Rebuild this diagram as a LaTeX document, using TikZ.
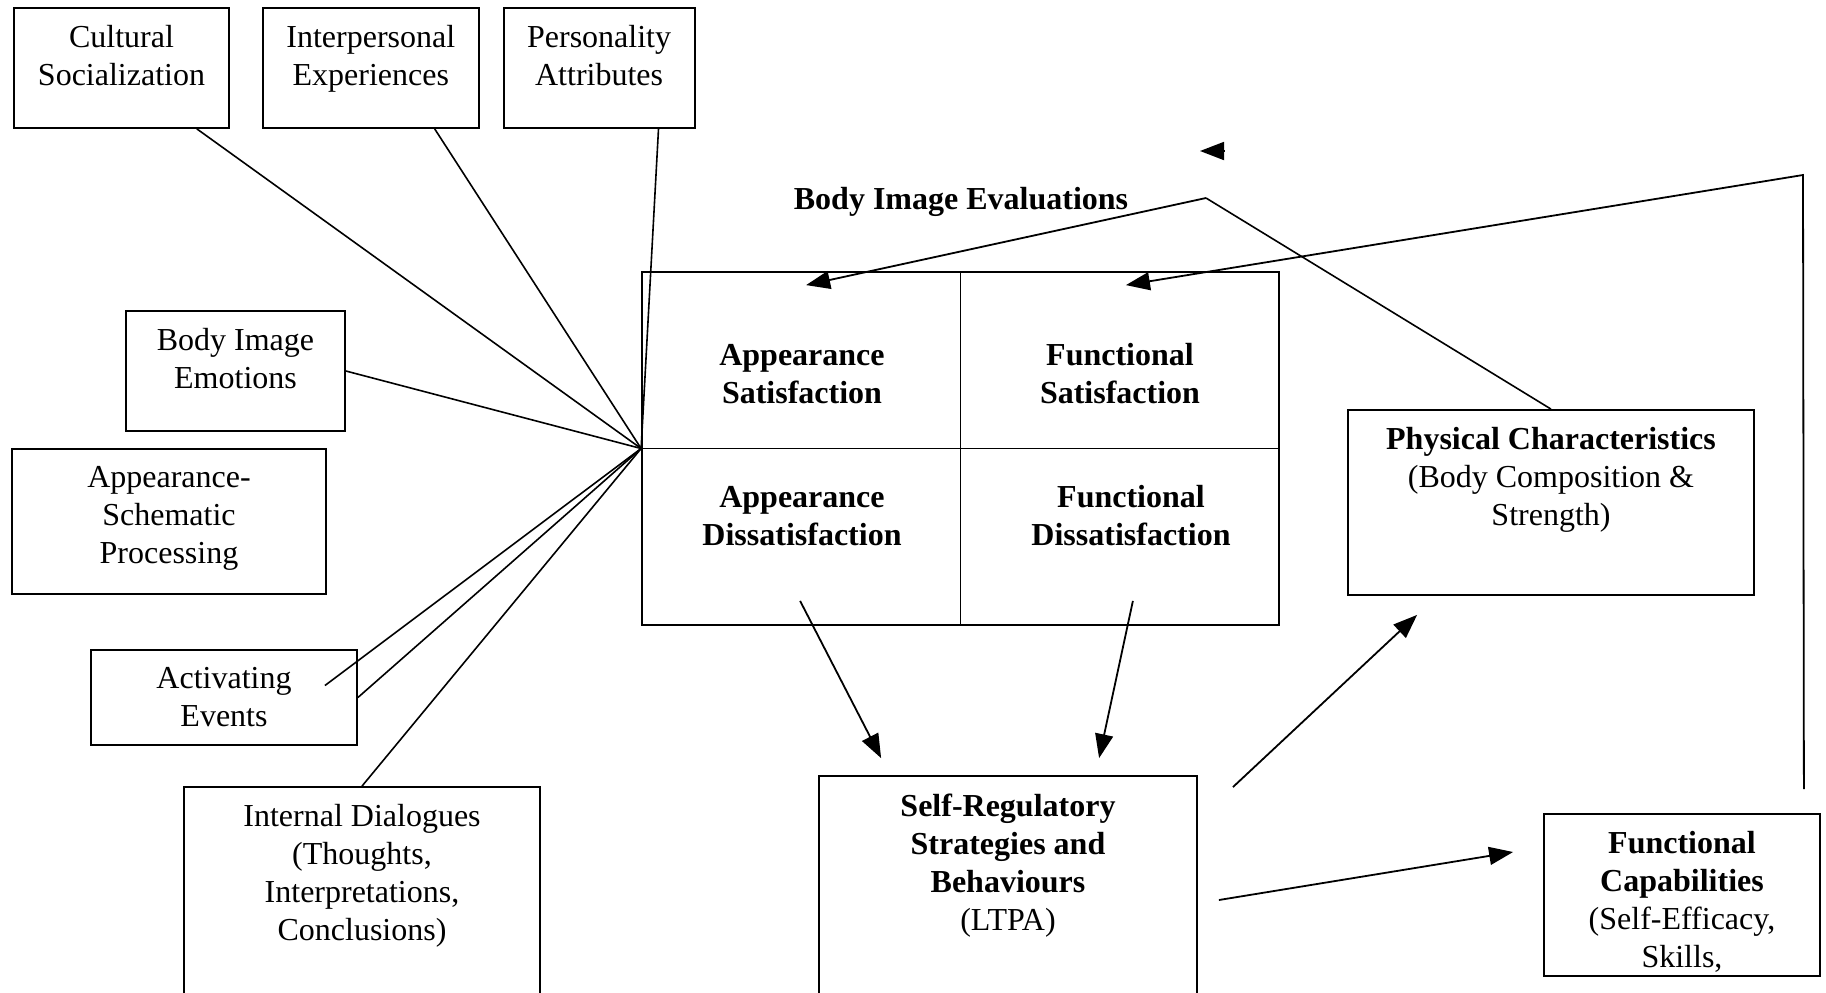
\documentclass[tikz,border=0pt]{standalone}
\usepackage{fontspec}
\setmainfont{Liberation Serif}
\usetikzlibrary{arrows.meta,positioning,calc}
\newcommand{\boxfont}{\fontsize{16}{19}\selectfont}
\tikzset{
  box/.style={draw,line width=0.9pt,inner sep=0pt},
  txt/.style={anchor=north,yshift=-9pt,inner sep=0pt,align=center,font=\boxfont},
  cell/.style={inner sep=0pt,align=center,font=\boxfont\bfseries},
  spoke/.style={line width=0.8pt},
  flow/.style={-{Triangle[length=12pt,width=9pt]},line width=0.9pt},
}

\begin{document}
\begin{tikzpicture}[x=0.5pt,y=-0.5pt]
  \useasboundingbox (0,0) rectangle (1826,992);
  % --- influences on the evaluations ---
  \node[box,minimum width=107.5pt,minimum height=60pt,
    label={[txt]north:{Cultural\\Socialization}}] (cult) at (121.5,68) {};
  \node[box,minimum width=108pt,minimum height=60pt,right=16pt of cult,
    label={[txt]north:{Interpersonal\\Experiences}}] (inter) {};
  \node[box,minimum width=95.5pt,minimum height=60pt,right=11.5pt of inter,
    label={[txt]north:{Personality\\Attributes}}] (pers) {};
  \node[box,minimum width=109.5pt,minimum height=60pt,
    label={[txt]north:{Body Image\\Emotions}}] (emot) at (235.5,371) {};
  \node[box,minimum width=157pt,minimum height=72.5pt,
    label={[txt]north:{Appearance-\\Schematic\\Processing}}] (schem) at (169,521.5) {};
  \node[box,minimum width=133pt,minimum height=47.5pt,
    label={[txt]north:{Activating\\Events}}] (activ) at (224,697.5) {};
  \node[box,minimum width=178pt,minimum height=105.5pt,
    label={[txt]north:{Internal Dialogues\\(Thoughts,\\Interpretations,\\Conclusions)}}] (dial) at (362,892.5) {};

  % --- body image evaluations grid ---
  \node[box,minimum width=318.5pt,minimum height=176.5pt] (evalgrid) at (960.5,448.5) {};
  \draw[line width=0.9pt] (evalgrid.north) -- (evalgrid.south);
  \draw[line width=0.9pt] (evalgrid.west) -- (evalgrid.east);
  \node[cell] (apsat) at (802,374) {Appearance\\Satisfaction};
  \node[cell] (fnsat) at (1120,374) {Functional\\Satisfaction};
  \node[cell] (apdis) at (802,516) {Appearance\\Dissatisfaction};
  \node[cell] (fndis) at (1131,516) {Functional\\Dissatisfaction};
  \node[cell] (evallab) at (961,202) {Body Image Evaluations};

  % --- outcomes ---
  \node[box,minimum width=203pt,minimum height=92.5pt,
    label={[txt]north:{\textbf{Physical Characteristics}\\(Body Composition \&\\Strength)}}] (physical) at (1551,502.5) {};
  \node[box,minimum width=189pt,minimum height=111pt,
    label={[txt]north:{\textbf{Self-Regulatory}\\\textbf{Strategies and}\\\textbf{Behaviours}\\(LTPA)}}] (selfreg) at (1008,887) {};
  \node[box,minimum width=138pt,minimum height=81pt,
    label={[txt]north:{\textbf{Functional}\\\textbf{Capabilities}\\(Self-Efficacy,\\Skills,}}] (funccap) at (1682,895) {};

  % spokes into the grid
  \coordinate (hub) at (evalgrid.west);
  \coordinate (cultout) at ($(cult.south east)+(-33,0)$);
  \coordinate (interout) at ($(inter.south east)+(-45,0)$);
  \coordinate (persout) at ($(pers.south east)+(-37,0)$);
  \coordinate (activin) at ($(activ.east)+(-33,-12)$);
  \foreach \s in {cultout,interout,persout,emot.east,activin,activ.east,dial.north}
    \draw[spoke] (\s) -- (hub);

  % evaluation feedback
  \coordinate (apex) at (1206,198);
  \coordinate (corner) at (1803,175);
  \coordinate (fbfoot) at ($(funccap.north east)+(-17,-24)$);
  \coordinate (stray) at ($(apex)+(18,-47)$);
  \draw[flow] (apex) -- ($(evalgrid.north west)+(165,14)$);
  \draw[spoke] (apex) -- (physical.north);
  \draw[flow] (stray) -- ++(-24,0);
  \draw[flow] (fbfoot) -- (corner) -- ($(evalgrid.north east)+(-154,14)$);

  % behaviour links
  \draw[flow] ($(evalgrid.south west)+(159,-25)$) -- ($(selfreg.north west)+(63,-17)$);
  \draw[flow] ($(evalgrid.south east)+(-147,-25)$) -- ($(selfreg.north west)+(281,-17)$);
  \draw[flow] ($(selfreg.north east)+(35,12)$) -- ($(physical.south west)+(70,19)$);
  \draw[flow] ($(selfreg.east)+(21,13)$) -- ($(funccap.west)+(-30,-43)$);
\end{tikzpicture}
\end{document}
